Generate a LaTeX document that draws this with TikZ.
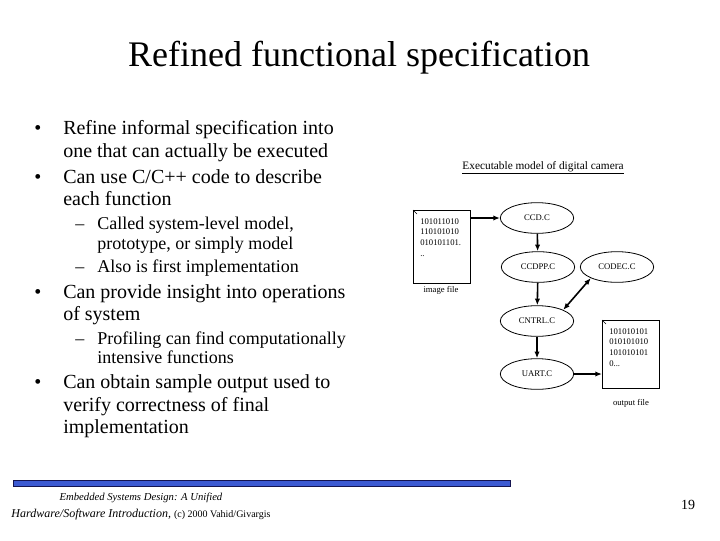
\documentclass[tikz,border=0pt]{standalone}
\usepackage{fontspec}
\setmainfont{Liberation Serif}
\usetikzlibrary{shapes.geometric,arrows.meta}
\begin{document}
\begin{tikzpicture}[x=0.75pt,y=-0.75pt,
  bul/.style={anchor=base west,font=\fontsize{15}{17}\selectfont,inner sep=0},
  sub/.style={anchor=base west,font=\fontsize{13.5}{15}\selectfont,inner sep=0},
  ell/.style={ellipse,draw,line width=0.6pt,minimum width=55pt,minimum height=23pt,inner sep=0,font=\fontsize{6.5}{7}\selectfont},
  doc/.style={draw,line width=0.6pt,anchor=north west,inner sep=0},
  arr/.style={-{Latex[length=5pt,width=4pt]},line width=1.2pt},
  sm/.style={font=\fontsize{6.5}{8}\selectfont,inner sep=0}]
\useasboundingbox[fill=white] (0,0) rectangle (720,540);
\node[font=\fontsize{27}{30}\selectfont] (title) at (359,58) {Refined functional specification};
% bullets
\foreach \y/\t in {134/{Refine informal specification into},157/{one that can actually be executed},183/{Can use C/C++ code to describe},205/{each function},298/{Can provide insight into operations},320/{of system},388/{Can obtain sample output used to},411/{verify correctness of final},433/{implementation}}{\node[bul] at (63,\y) {\t};}
\foreach \y in {134,183,298,388}{\node[bul] at (34,\y) {•};}
\foreach \y/\t in {229/{Called system-level model,},249/{prototype, or simply model},272/{Also is first implementation},344/{Profiling can find computationally},363/{intensive functions}}{\node[sub] at (97,\y) {\t};}
\foreach \y in {229,272,344}{\node[sub] at (75,\y) {–};}
% diagram
\node[font=\fontsize{8.5}{10}\selectfont,inner sep=1pt] (cap) at (543,168) {\underline{Executable model of digital camera}};
\node[ell] (ccd) at (537,218) {CCD.C};
\node[ell] (ccdpp) at (538,267) {CCDPP.C};
\node[ell] (codec) at (617,267) {CODEC.C};
\node[ell] (cntrl) at (537,321) {CNTRL.C};
\node[ell] (uart) at (537,374) {UART.C};
\node[doc,minimum width=43pt,minimum height=55pt] (img) at (413,210) {};
\node[sm,anchor=north west,align=left] at (420,218) {101011010\\110101010\\010101101.\\..};
\node[sm] (imgl) at (441,290) {image file};
\node[doc,minimum width=43pt,minimum height=51pt] (out) at (602,320) {};
\node[sm,anchor=north west,align=left] at (609,328) {101010101\\010101010\\101010101\\0...};
\node[sm] (outl) at (631,403) {output file};
\draw (img.north west) -- ++(4,4);
\draw (out.north west) -- ++(4,4);
\draw[arr] (img.east|-ccd) -- (ccd.west);
\draw[arr] (ccd) -- (ccdpp);
\draw[arr] (ccdpp) -- (cntrl);
\draw[arr,{Latex[length=5pt,width=4pt]}-{Latex[length=5pt,width=4pt]}] (cntrl.north east) -- (codec.south west);
\draw[arr] (cntrl) -- (uart);
\draw[arr] (uart.east) -- (out.west|-uart.east);
% footer
\draw[fill={rgb,255:red,60;green,90;blue,210},draw={rgb,255:red,20;green,20;blue,80}] (13,480) rectangle (510,486);
\node[font=\itshape\fontsize{8}{10}\selectfont] (f1) at (141,498) {Embedded Systems Design: A Unified};
\node[font=\fontsize{9}{12}\selectfont] (f2) at (141,515) {\textit{Hardware/Software Introduction,} {\fontsize{7.5}{9}\selectfont (c) 2000 Vahid/Givargis}};
\node[font=\fontsize{10.5}{12}\selectfont] (pg) at (688,505) {19};
\end{tikzpicture}
\end{document}
